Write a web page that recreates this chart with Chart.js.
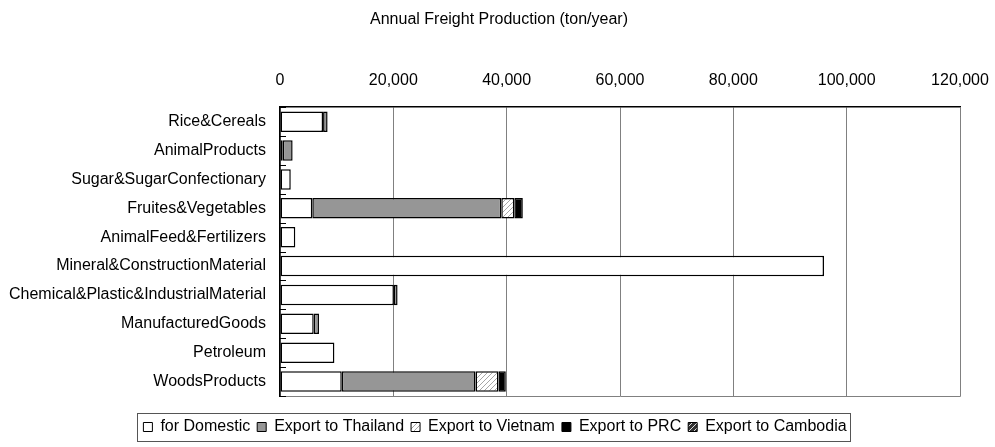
<!DOCTYPE html>
<html>
<head>
<meta charset="utf-8">
<script src="https://cdn.jsdelivr.net/npm/chart.js@4/dist/chart.umd.min.js"></script>
<style>
  html, body { margin: 0; padding: 0; background: #fff; }
  #wrap { width: 995px; height: 447px; }
</style>
</head>
<body>
<div id="wrap"><canvas id="c" width="995" height="447"></canvas></div>
<script>
// Commodity groups (top to bottom)
const categories = [
  'Rice&Cereals',
  'AnimalProducts',
  'Sugar&SugarConfectionary',
  'Fruites&Vegetables',
  'AnimalFeed&Fertilizers',
  'Mineral&ConstructionMaterial',
  'Chemical&Plastic&IndustrialMaterial',
  'ManufacturedGoods',
  'Petroleum',
  'WoodsProducts'
];

// Annual freight production by destination (ton/year)
const domestic        = [7600, 480, 1900, 5700, 2700, 96000, 20100, 5950, 9600, 10900];
const exportThailand  = [800, 1750, 0, 33350, 0, 0, 650, 930, 0, 23600];
const exportVietnam   = [0, 0, 0, 2300, 0, 0, 0, 0, 0, 4050];
const exportPRC       = [0, 0, 0, 1500, 0, 0, 0, 0, 0, 1300];
const exportCambodia  = [0, 0, 0, 0, 0, 0, 0, 0, 0, 0];

const seriesNames = ['for Domestic', 'Export to Thailand', 'Export to Vietnam', 'Export to PRC', 'Export to Cambodia'];

// Value axis ticks
const xMin = 0, xMax = 120000, xStep = 20000;

const FONT = 'Liberation Sans, Arial, sans-serif';

function hatch(bg, fg, size) {
  const c = document.createElement('canvas');
  c.width = size; c.height = size;
  const g = c.getContext('2d');
  g.fillStyle = bg; g.fillRect(0, 0, size, size);
  g.strokeStyle = fg; g.lineWidth = 1;
  g.beginPath();
  g.moveTo(0, size); g.lineTo(size, 0);
  g.moveTo(-size / 2, size / 2); g.lineTo(size / 2, -size / 2);
  g.moveTo(size / 2, size * 1.5); g.lineTo(size * 1.5, size / 2);
  g.stroke();
  return g.createPattern(c, 'repeat');
}
const ctx = document.getElementById('c').getContext('2d');
const vietnamFill = hatch('#ffffff', '#a6a6a6', 5);
const cambodiaFill = hatch('#333333', '#dddddd', 5);

const fills = ['#ffffff', '#969696', vietnamFill, '#000000', cambodiaFill];
const values = [domestic, exportThailand, exportVietnam, exportPRC, exportCambodia];

const datasets = seriesNames.map((name, i) => ({
  label: name,
  data: values[i],
  backgroundColor: fills[i],
  borderColor: '#000000',
  borderWidth: 1.5,
  borderSkipped: false,
  barPercentage: 0.71,
  categoryPercentage: 1.0
}));

// Frame, inner category ticks, and legend box
const decorations = {
  id: 'decorations',
  afterLayout(chart) {
    // centre the title and legend a little right of the full-width centre
    if (chart.titleBlock) { chart.titleBlock.left += 19; chart.titleBlock.right += 19; }
    if (chart.legend) { chart.legend.left += 15; chart.legend.right += 15; }
  },
  beforeDatasetsDraw(chart) {
    const { ctx, chartArea: a } = chart;
    ctx.save();
    ctx.strokeStyle = '#808080';
    ctx.lineWidth = 1;
    ctx.beginPath();
    ctx.moveTo(a.right + 0.5, a.top);
    ctx.lineTo(a.right + 0.5, a.bottom + 0.5);
    ctx.lineTo(a.left, a.bottom + 0.5);
    ctx.stroke();
    // small tick marks on the category axis, at category boundaries
    const y = chart.scales.y;
    const half = (y.getPixelForValue(1) - y.getPixelForValue(0)) / 2;
    ctx.strokeStyle = '#000000';
    ctx.beginPath();
    for (let i = 0; i <= categories.length; i++) {
      const py = Math.round(y.getPixelForValue(i) - half) + 0.5;
      ctx.moveTo(a.left, py);
      ctx.lineTo(a.left + 6, py);
    }
    ctx.stroke();
    ctx.restore();
  },
  afterDraw(chart) {
    const lg = chart.legend;
    if (!lg || !lg.legendHitBoxes || !lg.legendHitBoxes.length) return;
    const hb = lg.legendHitBoxes;
    let l = Infinity, r = -Infinity, t = Infinity, b = -Infinity;
    hb.forEach(h => {
      l = Math.min(l, h.left); r = Math.max(r, h.left + h.width);
      t = Math.min(t, h.top); b = Math.max(b, h.top + h.height);
    });
    const { ctx } = chart;
    ctx.save();
    ctx.strokeStyle = '#555555';
    ctx.lineWidth = 1;
    ctx.strokeRect(Math.round(l - 6) + 0.5, Math.round(t - 6) + 0.5, Math.round(r - l + 10), Math.round(b - t + 12));
    ctx.restore();
  }
};

new Chart(ctx, {
  type: 'bar',
  data: { labels: categories, datasets },
  plugins: [decorations],
  options: {
    responsive: false,
    animation: false,
    indexAxis: 'y',
    layout: { padding: { left: 0, right: 35, top: 0, bottom: 2 } },
    plugins: {
      title: {
        display: true,
        text: 'Annual Freight Production (ton/year)',
        color: '#000000',
        font: { family: FONT, size: 16, weight: 'normal' },
        padding: { top: 10, bottom: 9 }
      },
      legend: {
        position: 'bottom',
        // empty title used only as vertical spacing above the legend row
        title: { display: true, text: '', font: { size: 10 }, padding: { top: 4, bottom: 0 } },
        labels: {
          color: '#000000',
          font: { family: FONT, size: 16 },
          boxWidth: 9,
          boxHeight: 9,
          padding: 7,
          generateLabels(chart) {
            return chart.data.datasets.map((d, i) => ({
              text: d.label,
              fillStyle: d.backgroundColor,
              strokeStyle: '#000000',
              lineWidth: 1,
              hidden: false,
              datasetIndex: i,
              fontColor: '#000000'
            }));
          }
        }
      },
      tooltip: { enabled: false }
    },
    scales: {
      x: {
        position: 'top',
        stacked: true,
        min: xMin,
        max: xMax,
        ticks: {
          stepSize: xStep,
          color: '#000000',
          padding: 17,
          maxRotation: 0,
          font: { family: FONT, size: 16 },
          callback: v => v.toLocaleString('en-US')
        },
        grid: { color: '#808080', lineWidth: 1, drawTicks: false },
        border: { color: '#000000', width: 1.5 },
        afterFit(s) { s.height = 69; s.paddingLeft = 0; s.paddingRight = 0; }
      },
      y: {
        stacked: true,
        ticks: {
          color: '#000000',
          padding: 14,
          autoSkip: false,
          font: { family: FONT, size: 16 }
        },
        grid: { display: false, drawTicks: false },
        border: { color: '#000000', width: 1.5 },
        afterFit(s) { s.width = 280; }
      }
    }
  }
});
</script>
</body>
</html>
